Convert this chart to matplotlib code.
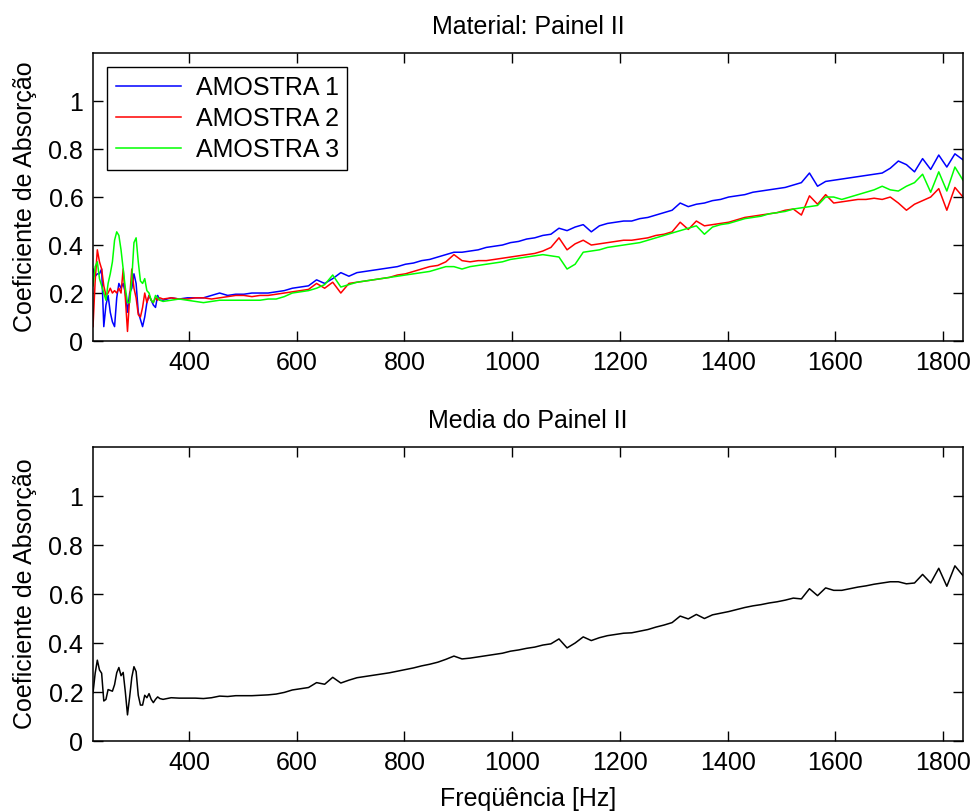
import numpy as np
import matplotlib
matplotlib.use("Agg")
import matplotlib.pyplot as plt

plt.rcParams['font.family'] = ['Liberation Sans', 'DejaVu Sans']

# ---------------- data ----------------
freq_low = np.arange(222, 347, 4)          # 222 .. 346 Hz
freq_high = np.arange(352, 1838, 15)       # 352 .. 1837 Hz
freq = np.concatenate([freq_low, freq_high])

amostra1_low = [0.30, 0.27, 0.28, 0.28, 0.30, 0.06, 0.15, 0.19, 0.12, 0.08, 0.06, 0.18,
                0.24, 0.22, 0.24, 0.20, 0.12, 0.20, 0.22, 0.28, 0.24, 0.12, 0.09, 0.06,
                0.10, 0.16, 0.19, 0.17, 0.15, 0.14, 0.19, 0.17]
amostra2_low = [0.06, 0.25, 0.38, 0.33, 0.30, 0.23, 0.19, 0.20, 0.22, 0.20, 0.21, 0.20,
                0.22, 0.20, 0.30, 0.18, 0.04, 0.18, 0.30, 0.22, 0.18, 0.11, 0.10, 0.14,
                0.20, 0.16, 0.19, 0.17, 0.16, 0.18, 0.17, 0.18]
amostra3_low = [0.23, 0.31, 0.33, 0.26, 0.23, 0.20, 0.17, 0.24, 0.28, 0.33, 0.42, 0.455,
                0.44, 0.38, 0.30, 0.22, 0.16, 0.16, 0.26, 0.41, 0.43, 0.33, 0.25, 0.24,
                0.26, 0.21, 0.20, 0.17, 0.16, 0.19, 0.18, 0.17]

amostra1_high = [0.17, 0.18, 0.175, 0.18, 0.18, 0.18, 0.19, 0.20, 0.19, 0.195,
                 0.195, 0.20, 0.20, 0.20, 0.205, 0.21, 0.22, 0.225, 0.23, 0.255,
                 0.24, 0.26, 0.285, 0.27, 0.285, 0.29, 0.295, 0.30, 0.305, 0.31,
                 0.32, 0.325, 0.335, 0.34, 0.35, 0.36, 0.37, 0.37, 0.375, 0.38,
                 0.39, 0.395, 0.40, 0.41, 0.415, 0.425, 0.43, 0.44, 0.445, 0.47,
                 0.46, 0.475, 0.485, 0.455, 0.48, 0.49, 0.495, 0.50, 0.50, 0.51,
                 0.515, 0.525, 0.535, 0.545, 0.575, 0.56, 0.57, 0.575, 0.585, 0.59,
                 0.60, 0.605, 0.61, 0.62, 0.625, 0.63, 0.635, 0.64, 0.65, 0.66,
                 0.70, 0.645, 0.665, 0.67, 0.675, 0.68, 0.685, 0.69, 0.695, 0.70,
                 0.72, 0.75, 0.735, 0.705, 0.76, 0.715, 0.775, 0.725, 0.78, 0.755]
amostra2_high = [0.175, 0.18, 0.175, 0.175, 0.18, 0.18, 0.175, 0.18, 0.185, 0.19,
                 0.19, 0.185, 0.19, 0.19, 0.195, 0.20, 0.205, 0.21, 0.215, 0.24,
                 0.22, 0.245, 0.20, 0.24, 0.245, 0.25, 0.255, 0.26, 0.265, 0.275,
                 0.28, 0.29, 0.30, 0.31, 0.315, 0.33, 0.36, 0.335, 0.33, 0.335,
                 0.335, 0.34, 0.345, 0.35, 0.355, 0.36, 0.365, 0.375, 0.39, 0.43,
                 0.38, 0.405, 0.42, 0.40, 0.405, 0.41, 0.415, 0.42, 0.42, 0.425,
                 0.43, 0.44, 0.445, 0.455, 0.495, 0.465, 0.50, 0.48, 0.485, 0.49,
                 0.495, 0.505, 0.515, 0.52, 0.525, 0.53, 0.535, 0.545, 0.55, 0.525,
                 0.605, 0.57, 0.61, 0.575, 0.58, 0.585, 0.59, 0.59, 0.595, 0.59,
                 0.60, 0.575, 0.545, 0.57, 0.585, 0.60, 0.635, 0.545, 0.64, 0.60]
amostra3_high = [0.165, 0.17, 0.175, 0.17, 0.165, 0.16, 0.165, 0.17, 0.17, 0.17,
                 0.17, 0.17, 0.17, 0.175, 0.175, 0.185, 0.20, 0.205, 0.21, 0.22,
                 0.235, 0.275, 0.225, 0.235, 0.245, 0.25, 0.255, 0.26, 0.265, 0.27,
                 0.275, 0.28, 0.285, 0.29, 0.30, 0.31, 0.31, 0.30, 0.31, 0.315,
                 0.32, 0.325, 0.33, 0.34, 0.345, 0.35, 0.355, 0.36, 0.355, 0.35,
                 0.30, 0.32, 0.37, 0.375, 0.38, 0.39, 0.395, 0.40, 0.405, 0.41,
                 0.42, 0.43, 0.44, 0.45, 0.46, 0.47, 0.48, 0.445, 0.475, 0.485,
                 0.49, 0.50, 0.51, 0.515, 0.52, 0.53, 0.535, 0.54, 0.55, 0.555,
                 0.56, 0.565, 0.60, 0.60, 0.59, 0.60, 0.61, 0.62, 0.63, 0.645,
                 0.63, 0.625, 0.645, 0.66, 0.695, 0.62, 0.705, 0.625, 0.725, 0.67]

amostra1 = np.array(amostra1_low + amostra1_high)
amostra2 = np.array(amostra2_low + amostra2_high)
amostra3 = np.array(amostra3_low + amostra3_high)
media = (amostra1 + amostra2 + amostra3) / 3.0

series_labels = ['AMOSTRA 1', 'AMOSTRA 2', 'AMOSTRA 3']
series_colors = ['#0000FF', '#FF0000', '#00FF00']

xticks = [400, 600, 800, 1000, 1200, 1400, 1600, 1800]
yticks = [0, 0.2, 0.4, 0.6, 0.8, 1.0]
ytick_labels = ['0', '0.2', '0.4', '0.6', '0.8', '1']

title_top = 'Material: Painel II'
title_bottom = 'Media do Painel II'
ylabel = 'Coeficiente de Absorção'
xlabel = 'Freqüência [Hz]'

# ---------------- figure ----------------
FS = 18
fig = plt.figure(figsize=(9.74, 8.11), dpi=100)
ax1 = fig.add_axes([0.0955, 0.5795, 0.8932, 0.3551])
ax2 = fig.add_axes([0.0955, 0.0863, 0.8932, 0.3625])


def style(ax):
    ax.set_xlim(222, 1837)
    ax.set_ylim(0, 1.2)
    ax.set_xticks(xticks)
    ax.set_xticklabels([str(t) for t in xticks])
    ax.set_yticks(yticks)
    ax.set_yticklabels(ytick_labels)
    ax.tick_params(direction='in', length=7, width=1.0, top=True, right=True,
                   labelsize=FS, pad=7, color='black')
    for s in ax.spines.values():
        s.set_linewidth(1.1)
        s.set_color('black')
    ax.set_ylabel(ylabel, fontsize=FS, labelpad=8)


for vals, lab, col in zip([amostra1, amostra2, amostra3], series_labels, series_colors):
    ax1.plot(freq, vals, color=col, lw=1.1, label=lab)
style(ax1)
ax1.set_title(title_top, fontsize=FS, pad=14)
leg = ax1.legend(loc='upper left', fontsize=FS, frameon=True, fancybox=False,
                 edgecolor='black', framealpha=1, handlelength=2.6,
                 labelspacing=0.28, borderpad=0.35, handletextpad=0.6,
                 borderaxespad=0.55)
leg.get_frame().set_linewidth(1.0)

ax2.plot(freq, media, color='black', lw=1.1)
style(ax2)
ax2.set_title(title_bottom, fontsize=FS, pad=14)
ax2.set_xlabel(xlabel, fontsize=FS, labelpad=9)

fig.savefig('out.png', dpi=100)
